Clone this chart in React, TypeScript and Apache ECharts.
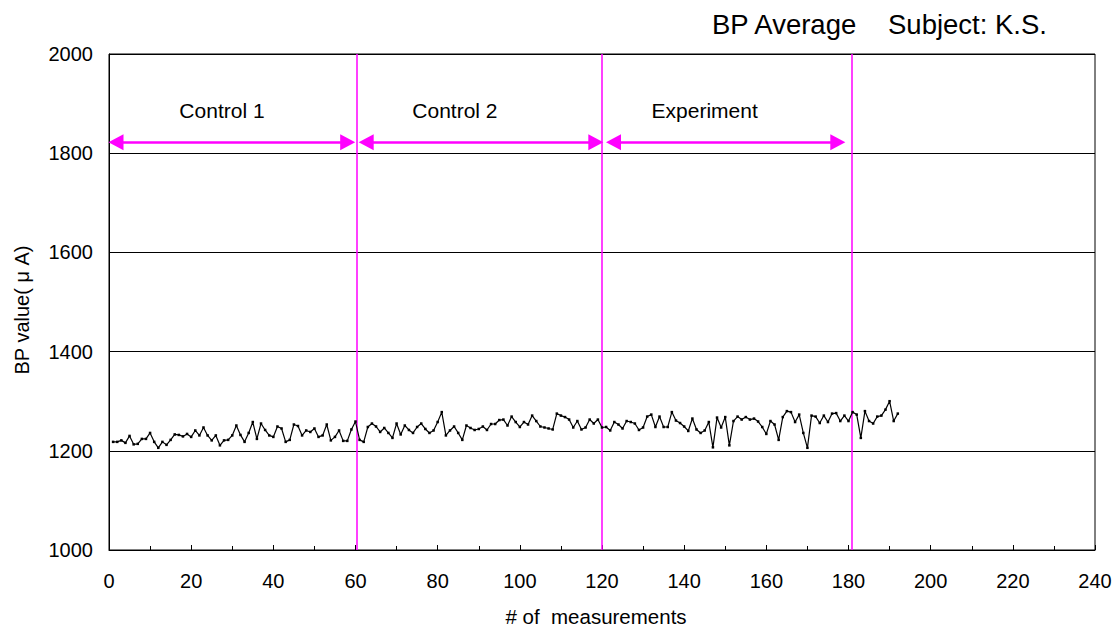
import React, { useEffect, useRef } from "react";
import * as echarts from "echarts";

// BP average values, measurements #1..#192
const bpValues = [
  1218, 1218, 1221, 1216, 1230, 1213, 1214, 1224, 1224, 1236, 1218, 1206, 1218, 1212, 1222, 1233,
  1232, 1229, 1234, 1228, 1241, 1231, 1247, 1231, 1221, 1231, 1211, 1221, 1222, 1231, 1251, 1232,
  1218, 1236, 1258, 1224, 1255, 1242, 1231, 1228, 1249, 1245, 1218, 1222, 1253, 1250, 1231, 1241,
  1238, 1245, 1228, 1231, 1253, 1221, 1228, 1241, 1220, 1220, 1243, 1259, 1222, 1218, 1248,
  1255, 1249, 1238, 1246, 1236, 1226, 1255, 1233, 1251, 1242, 1236, 1248, 1255, 1244, 1236, 1241,
  1258, 1278, 1231, 1241, 1249, 1236, 1222, 1251, 1246, 1242, 1244, 1249, 1242, 1254, 1254, 1262,
  1263, 1251, 1269, 1258, 1248, 1258, 1253, 1271, 1260, 1249, 1247, 1245, 1243, 1275, 1271, 1268,
  1263, 1247, 1260, 1243, 1247, 1263, 1255, 1263, 1247, 1248, 1241, 1258, 1253, 1245, 1260,
  1258, 1255, 1242, 1247, 1269, 1273, 1248, 1269, 1248, 1248, 1278, 1261, 1256, 1249, 1240, 1265,
  1243, 1236, 1241, 1258, 1207, 1267, 1247, 1268, 1211, 1260, 1269, 1263, 1268, 1263, 1265,
  1259, 1248, 1234, 1260, 1253, 1222, 1268, 1280, 1278, 1258, 1273, 1236, 1206, 1271, 1269, 1256,
  1271, 1258, 1275, 1276, 1260, 1271, 1260, 1278, 1273, 1226, 1280, 1260, 1255, 1269, 1271, 1283,
  1300, 1260, 1275,
];

const phaseBoundaries = [60.4, 120, 180.7];
// arrow symbol centres (tips extend about half an arrowhead beyond these)
const phaseArrowStarts = [1.7, 62.6, 122.8];
const phaseArrowEnds = [58.1, 118.5, 177.4];
const arrowLevel = 1822;
const phaseLabels = ["Control 1", "Control 2", "Experiment"];
const phaseLabelX = [27.5, 84.2, 145];
const phaseLabelLevel = 1887;

const titleMain = "BP Average";
const titleSubject = "Subject: K.S.";
const yAxisTitle = "BP value( μ A)";
const xAxisTitle = "# of  measurements";

const FONT = "'Liberation Sans', Arial, sans-serif";

export default function App() {
  const ref = useRef<HTMLDivElement>(null);

  useEffect(() => {
    if (!ref.current) return;
    const chart = echarts.init(ref.current, null, { renderer: "svg" });

    const lineData = bpValues.map((v, i) => [i + 1, v]);
    const labelData = phaseLabels.map((name, i) => [phaseLabelX[i], phaseLabelLevel, name]);

    chart.setOption({
      animation: false,
      backgroundColor: "#ffffff",
      textStyle: { fontFamily: FONT },
      grid: {
        left: 109,
        right: 23,
        top: 54,
        bottom: 81,
        show: true,
        borderColor: "#000",
        borderWidth: 1,
        backgroundColor: "transparent",
      },
      xAxis: {
        type: "value",
        min: 0,
        max: 240,
        interval: 20,
        axisLine: { show: true, onZero: false, lineStyle: { color: "#000", width: 1 } },
        axisTick: { show: true, inside: true, length: 5, lineStyle: { color: "#000" } },
        minorTick: { show: true, splitNumber: 2, length: 4, lineStyle: { color: "#000" } },
        axisLabel: {
          color: "#000",
          fontSize: 20,
          margin: 21,
          fontFamily: FONT,
          formatter: (v: number) => String(v),
        },
        splitLine: { show: false },
      },
      yAxis: {
        type: "value",
        min: 1000,
        max: 2000,
        interval: 200,
        axisLine: { show: true, lineStyle: { color: "#000", width: 1 } },
        axisTick: { show: true, inside: true, length: 5, lineStyle: { color: "#000" } },
        axisLabel: {
          color: "#000",
          fontSize: 20,
          margin: 16,
          fontFamily: FONT,
          formatter: (v: number) => String(v),
        },
        splitLine: { show: true, lineStyle: { color: "#000", width: 1 } },
      },
      graphic: [
        {
          type: "text",
          left: 712,
          top: 10,
          style: { text: titleMain, fontSize: 27.5, fill: "#000", fontFamily: FONT },
        },
        {
          type: "text",
          left: 888,
          top: 10,
          style: { text: titleSubject, fontSize: 27.5, fill: "#000", fontFamily: FONT },
        },
        {
          type: "text",
          x: 22,
          y: 310,
          rotation: Math.PI / 2,
          style: {
            text: yAxisTitle,
            fontSize: 20,
            fill: "#000",
            fontFamily: FONT,
            align: "center",
            verticalAlign: "middle",
          },
        },
        {
          type: "text",
          x: 596,
          y: 616,
          style: {
            text: xAxisTitle,
            fontSize: 20.5,
            fill: "#000",
            fontFamily: FONT,
            align: "center",
            verticalAlign: "middle",
          },
        },
      ],
      series: [
        {
          name: "BP",
          type: "line",
          data: lineData,
          symbol: "rect",
          symbolSize: 2.5,
          showSymbol: true,
          itemStyle: { color: "#000" },
          lineStyle: { color: "#000", width: 1.2 },
          z: 5,
          markLine: {
            silent: true,
            symbol: "none",
            label: { show: false },
            lineStyle: { color: "#ff00ff", width: 1.5, type: "solid" },
            data: phaseBoundaries.map((x) => ({ xAxis: x })),
          },
        },
        {
          name: "arrows",
          type: "line",
          data: [],
          markLine: {
            silent: true,
            symbol: ["triangle", "triangle"],
            symbolSize: [16, 15],
            label: { show: false },
            lineStyle: { color: "#ff00ff", width: 2.5, type: "solid" },
            itemStyle: { color: "#ff00ff" },
            data: phaseArrowStarts.map((s, i) => [
              { coord: [s, arrowLevel] },
              { coord: [phaseArrowEnds[i], arrowLevel] },
            ]),
          },
        },
        {
          name: "labels",
          type: "scatter",
          data: labelData,
          symbolSize: 1,
          silent: true,
          itemStyle: { color: "#fff", opacity: 1 },
          label: {
            show: true,
            position: "inside",
            color: "#000",
            opacity: 1,
            fontSize: 21,
            fontFamily: FONT,
            formatter: (p: any) => p.data[2],
          },
        },
      ],
    });

    return () => chart.dispose();
  }, []);

  return (
    <div
      ref={ref}
      style={{ position: "fixed", left: 0, top: 0, width: 1118, height: 631, background: "#fff" }}
    />
  );
}
